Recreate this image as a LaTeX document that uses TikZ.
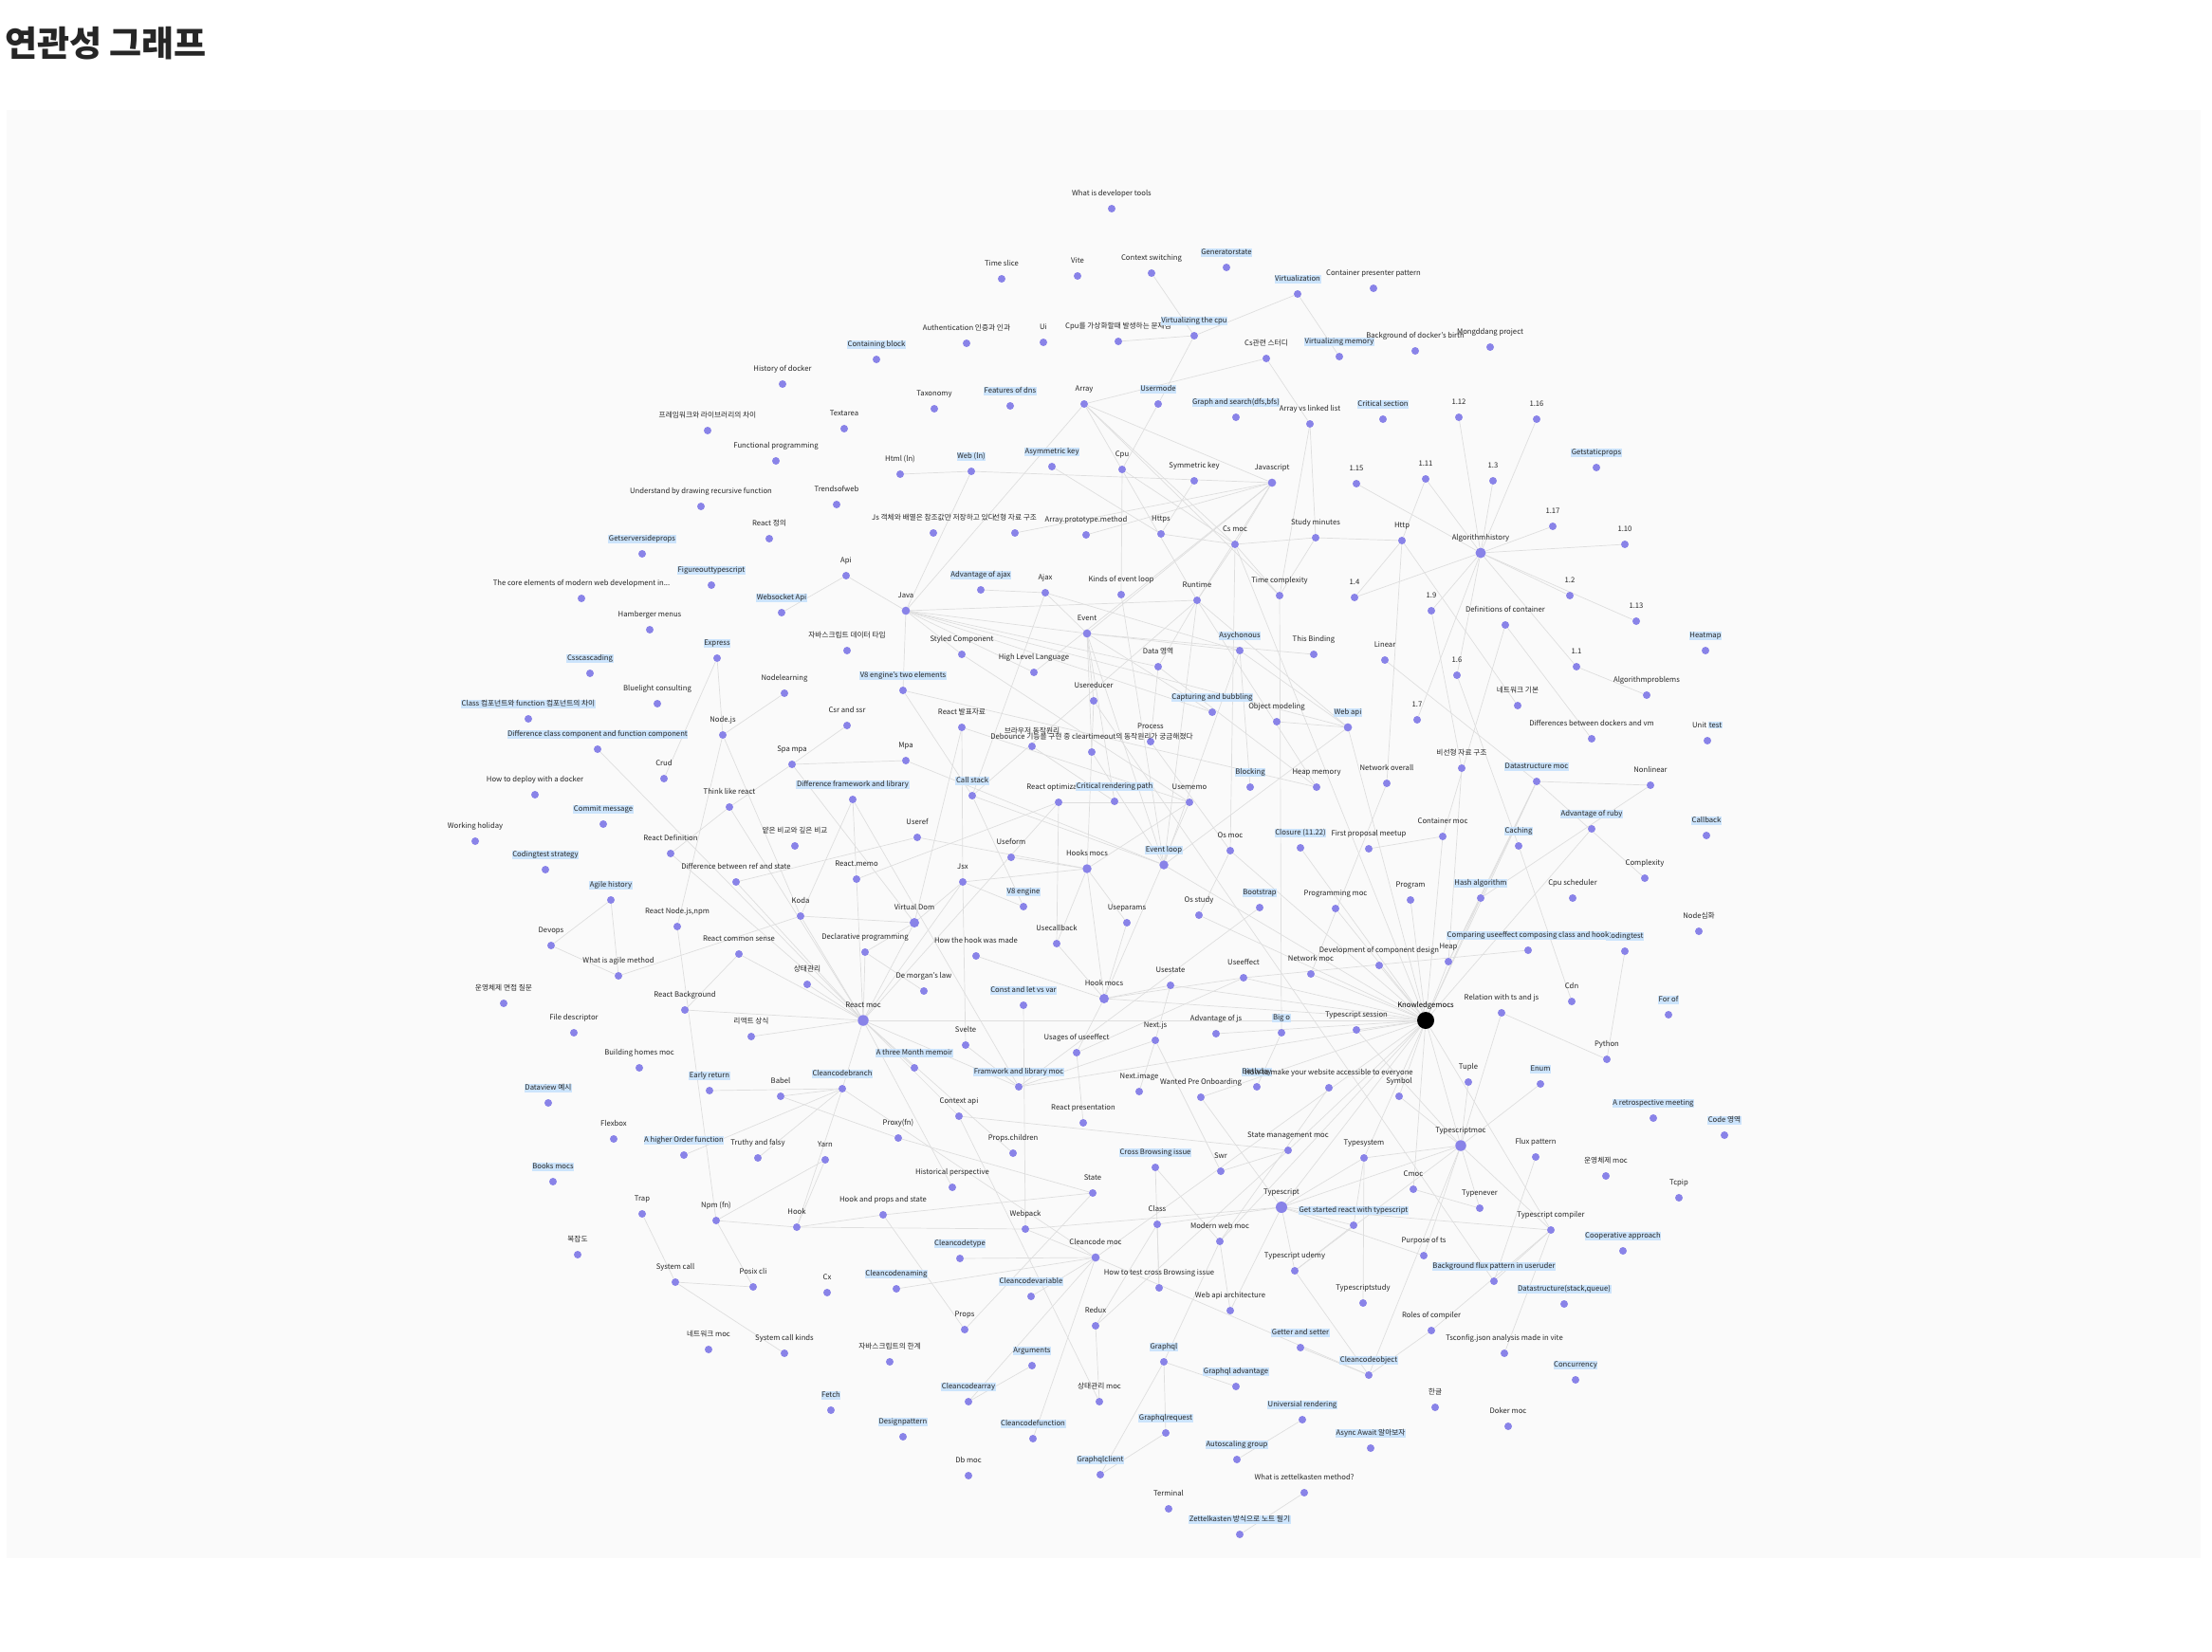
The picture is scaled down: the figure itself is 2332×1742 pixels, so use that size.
\documentclass[tikz,border=0pt]{standalone}
\usepackage{fontspec}
\setmainfont{Noto Sans CJK KR}
\definecolor{dotc}{RGB}{137,131,232}
\definecolor{hlc}{RGB}{204,228,252}
\definecolor{edgec}{RGB}{222,222,222}
\definecolor{txt}{RGB}{38,38,38}
\definecolor{bgc}{RGB}{250,250,250}
\pgfdeclarelayer{back}
\pgfdeclarelayer{edges}
\pgfsetlayers{back,edges,main}
\tikzset{
  dot/.style={circle,fill=dotc,inner sep=0pt,minimum size=8pt},
  lbl/.style={font=\fontsize{7.7}{8}\selectfont,text=txt,inner xsep=0.6pt,inner ysep=0.9pt,text height=5.8pt,text depth=1.4pt},
  hl/.style={fill=hlc},
  edge/.style={draw=edgec,line width=0.7pt},
  bigdot/.style={minimum size=#1}
}
\setlength\fboxsep{0.8pt}
\newcommand\gn[5][]{\node[dot,#1] (#2) at (#3,#4) {};\node[lbl] (#2-l) at (#3,#4-16) {#5};}
\newcommand\gh[5][]{\node[dot,#1] (#2) at (#3,#4) {};\node[lbl,hl] (#2-l) at (#3,#4-16) {#5};}
\begin{document}
\begin{tikzpicture}[x=1pt,y=-1pt]
\useasboundingbox (0,0) rectangle (2332,1742);
\begin{pgfonlayer}{back}
\fill[white] (0,0) rectangle (2332,1742);
\fill[bgc] (7,116) rectangle (2320,1643);
\end{pgfonlayer}
\node[anchor=west,inner sep=0pt,font=\fontsize{37}{37}\selectfont\bfseries,text=txt] (title) at (5,46) {연관성 그래프};
% ---------- nodes ----------
\gn{devtools}{1172}{220}{What is developer tools}
\gn{timeslice}{1056}{294}{Time slice}
\gn{vite}{1136}{291}{Vite}
\gn{ctxsw}{1214}{288}{Context switching}
\gh{genstate}{1293}{282}{Generatorstate}
\gh{virt}{1368}{310}{Virtualization}
\gn{cpp}{1448}{304}{Container presenter pattern}
\gn{auth}{1019}{362}{Authentication 인증과 인과}
\gn{ui}{1100}{361}{Ui}
\gn{cpuvirt}{1179}{360}{Cpu를 가상화할때 발생하는 문제점}
\gh{vcpu}{1259}{354}{Virtualizing the cpu}
\gn{csstudy}{1335}{378}{Cs관련 스터디}
\gh{vmem}{1412}{376}{Virtualizing memory}
\gn{dockerbirth}{1492}{370}{Background of docker's birth}
\gn{mongd}{1571}{366}{Mongddang project}
\gh{containing}{924}{379}{Containing block}
\gn{histdocker}{825}{405}{History of docker}
\gn{taxonomy}{985}{431}{Taxonomy}
\gh{dns}{1065}{428}{Features of dns}
\gn{array}{1143}{426}{Array}
\gh{usermode}{1221}{426}{Usermode}
\gh{graphsearch}{1303}{440}{Graph and search(dfs,bfs)}
\gn{avl}{1381}{447}{Array vs linked list}
\gh{critsec}{1458}{442}{Critical section}
\gn{vAtwelve}{1538}{440}{1.12}
\gn{vAsixteen}{1620}{442}{1.16}
\gn{fwlib}{746}{454}{프레임워크와 라이브러리의 차이}
\gn{textarea}{890}{452}{Textarea}
\gn{funcprog}{818}{486}{Functional programming}
\gh{getstatic}{1683}{493}{Getstaticprops}
\gn{html}{949}{500}{Html (ln)}
\gh{web}{1024}{497}{Web (ln)}
\gh{asym}{1109}{492}{Asymmetric key}
\gn{cpu}{1183}{495}{Cpu}
\gn{sym}{1259}{507}{Symmetric key}
\gn[bigdot=8.7pt]{javascript}{1341}{509}{Javascript}
\gn{vAfifteen}{1430}{510}{1.15}
\gn{vAeleven}{1503}{505}{1.11}
\gn{vAthree}{1574}{507}{1.3}
\gn{recursive}{739}{534}{Understand by drawing recursive function}
\gn{trends}{882}{532}{Trendsofweb}
\gn{vAseventeen}{1637}{555}{1.17}
\gn{jsobj}{984}{562}{Js 객체와 배열은 참조값만 저장하고 있다}
\gn{linearkr}{1070}{562}{선형 자료 구조}
\gn{arrproto}{1145}{564}{Array.prototype.method}
\gn{https}{1224}{563}{Https}
\gn{csmoc}{1302}{574}{Cs moc}
\gn{studymin}{1387}{567}{Study minutes}
\gn{http}{1478}{570}{Http}
\gn[bigdot=11pt]{algohist}{1561}{583}{Algorithmhistory}
\gn{vAten}{1713}{574}{1.10}
\gn{reactkr}{811}{568}{React 정의}
\gh{getserver}{677}{584}{Getserversideprops}
\gn{api}{892}{607}{Api}
\gh{figure}{750}{617}{Figureouttypescript}
\gh{advajax}{1034}{622}{Advantage of ajax}
\gn{ajax}{1102}{625}{Ajax}
\gn{kindsel}{1182}{627}{Kinds of event loop}
\gn{runtime}{1262}{633}{Runtime}
\gn{timecx}{1349}{628}{Time complexity}
\gn{vAfour}{1428}{630}{1.4}
\gn{vAtwo}{1655}{628}{1.2}
\gn{coreweb}{613}{631}{The core elements of modern web development in...}
\gn[bigdot=8.7pt]{java}{955}{644}{Java}
\gn{vAnine}{1509}{644}{1.9}
\gh{websocket}{824}{646}{Websocket Api}
\gn{defcont}{1587}{659}{Definitions of container}
\gn{vAthirteen}{1725}{655}{1.13}
\gn{hamburger}{685}{664}{Hamberger menus}
\gn[bigdot=8.7pt]{event}{1146}{668}{Event}
\gn{jsdata}{893}{686}{자바스크립트 데이터 타입}
\gn{styled}{1014}{690}{Styled Component}
\gh{async}{1307}{686}{Asychonous}
\gn{thisbind}{1385}{690}{This Binding}
\gh{heatmap}{1798}{686}{Heatmap}
\gh{express}{756}{694}{Express}
\gn{linear}{1460}{696}{Linear}
\gn{dataarea}{1221}{703}{Data 영역}
\gn{vAone}{1662}{703}{1.1}
\gn{hll}{1090}{709}{High Level Language}
\gh{css}{622}{710}{Csscascading}
\gn{vAsix}{1536}{712}{1.6}
\gh{veighttwo}{952}{728}{V8 engine's two elements}
\gn{nodelearn}{827}{731}{Nodelearning}
\gn{algoprob}{1736}{733}{Algorithmproblems}
\gn{usereducer}{1153}{739}{Usereducer}
\gn{bluelight}{693}{742}{Bluelight consulting}
\gn{netbasic}{1600}{744}{네트워크 기본}
\gh{capture}{1278}{751}{Capturing and bubbling}
\gh{classkr}{557}{758}{Class 컴포넌트와 function 컴포넌트의 차이}
\gn{vAseven}{1494}{759}{1.7}
\gn{objmodel}{1346}{761}{Object modeling}
\gn{csrssr}{893}{765}{Csr and ssr}
\gn{reactpreskr}{1014}{767}{React 발표자료}
\gh[bigdot=8.7pt]{webapi}{1421}{767}{Web api}
\gn{nodejs}{762}{775}{Node.js}
\gn{diffdock}{1678}{779}{Differences between dockers and vm}
\node[dot] (unittest) at (1800,781) {};
\node[lbl] (unittest-l) at (1800,765) {Unit \colorbox{hlc}{test}};
\gn{browser}{1088}{787}{브라우저 동작원리}
\gn{process}{1213}{782}{Process}
\gh{diffclass}{630}{790}{Difference class component and function component}
\gn{debounce}{1151}{793}{Debounce 기능을 구현 중 cleartimeout의 동작원리가 궁금해졌다}
\gn{mpa}{955}{802}{Mpa}
\gn{spampa}{835}{806}{Spa mpa}
\gn{nonlinkr}{1541}{810}{비선형 자료 구조}
\gn{crud}{700}{821}{Crud}
\gh{dsmoc}{1620}{824}{Datastructure moc}
\gn{netoverall}{1462}{826}{Network overall}
\gn{nonlinear}{1740}{828}{Nonlinear}
\gh{blocking}{1318}{830}{Blocking}
\gn{heapmem}{1388}{830}{Heap memory}
\gn{deploy}{564}{838}{How to deploy with a docker}
\gh{callstack}{1025}{839}{Call stack}
\gh{diffwl}{899}{843}{Difference framework and library}
\gn{reactopt}{1116}{846}{React optimization}
\gh{crp}{1175}{845}{Critical rendering path}
\gn{usememo}{1254}{846}{Usememo}
\gn{thinkreact}{769}{851}{Think like react}
\gh{commit}{636}{869}{Commit message}
\gh{ruby}{1678}{874}{Advantage of ruby}
\gh{callback}{1799}{881}{Callback}
\gn{containermoc}{1521}{882}{Container moc}
\gn{useref}{967}{883}{Useref}
\gn{working}{501}{887}{Working holiday}
\gn{shallow}{838}{892}{얕은 비교와 깊은 비교}
\gh{caching}{1601}{892}{Caching}
\gh{closure}{1371}{894}{Closure (11.22)}
\gn{firstmeet}{1443}{895}{First proposal meetup}
\gn{osmoc}{1297}{897}{Os moc}
\gn{reactdefn}{707}{900}{React Definition}
\gn{useform}{1066}{904}{Useform}
\gh[bigdot=9.5pt]{eventloop}{1227}{912}{Event loop}
\gn[bigdot=9.5pt]{hooksmocs}{1146}{916}{Hooks mocs}
\gh{codingstrat}{575}{917}{Codingtest strategy}
\gn{complexity}{1734}{926}{Complexity}
\gn{reactmemo}{903}{927}{React.memo}
\gn{jsx}{1015}{930}{Jsx}
\gn{diffref}{776}{930}{Difference between ref and state}
\gh{hashalgo}{1561}{947}{Hash algorithm}
\gn{cpusched}{1658}{947}{Cpu scheduler}
\gn{program}{1487}{949}{Program}
\gh{agile}{644}{949}{Agile history}
\gh{veight}{1079}{956}{V8 engine}
\gh{bootstrap}{1328}{957}{Bootstrap}
\gn{progmoc}{1408}{958}{Programming moc}
\gn{ostudy}{1264}{965}{Os study}
\gn{koda}{844}{966}{Koda}
\gn[bigdot=10pt]{vdom}{964}{973}{Virtual Dom}
\gn{useparams}{1188}{973}{Useparams}
\gn{reactnpm}{714}{977}{React Node.js,npm}
\gn{nodedeep}{1791}{982}{Node심화}
\gn{usecallback}{1114}{995}{Usecallback}
\gn{devops}{581}{997}{Devops}
\gh{codingtest}{1713}{1003}{Codingtest}
\gh{comparing}{1611}{1002}{Comparing useeffect composing class and hook}
\gn{declarative}{912}{1004}{Declarative programming}
\gn{reactcommon}{779}{1006}{React common sense}
\gn{howhook}{1029}{1008}{How the hook was made}
\gn{devcomp}{1454}{1018}{Development of component design}
\gn{heap}{1527}{1014}{Heap}
\gn{netmoc}{1382}{1027}{Network moc}
\gn{whatagile}{652}{1029}{What is agile method}
\gn{useeffect}{1311}{1031}{Useeffect}
\gn{statekr}{851}{1038}{상태관리}
\gn{usestate}{1234}{1039}{Usestate}
\gn{demorgan}{974}{1045}{De morgan's law}
\gn[bigdot=10pt]{hookmocs}{1164}{1053}{Hook mocs}
\gn{cdn}{1657}{1056}{Cdn}
\gn{osinterview}{531}{1058}{운영체제 면접 질문}
\gh{constlet}{1079}{1060}{Const and let vs var}
\gn{reactbg}{722}{1065}{React Background}
\gn{relation}{1583}{1068}{Relation with ts and js}
\gh{forof}{1759}{1070}{For of}
\gn[bigdot=11.5pt]{reactmoc}{910}{1076}{React moc}
\node[dot,fill=black,minimum size=18pt] (knowledge) at (1503,1076) {};
\node[lbl,text=black] (knowledge-l) at (1503,1060) {Knowledgemocs};
\gn{tssession}{1430}{1086}{Typescript session}
\gn{filedesc}{605}{1089}{File descriptor}
\gh{bigo}{1351}{1089}{Big o}
\gn{advjs}{1282}{1090}{Advantage of js}
\gn{reactcommonkr}{792}{1093}{리액트 상식}
\gn{nextjs}{1218}{1097}{Next.js}
\gn{svelte}{1018}{1102}{Svelte}
\gn{usages}{1135}{1110}{Usages of useeffect}
\gn{python}{1694}{1117}{Python}
\gh{threemonth}{964}{1126}{A three Month memoir}
\gn{building}{674}{1126}{Building homes moc}
\gn{tuple}{1548}{1141}{Tuple}
\gh{enum}{1624}{1143}{Enum}
\gh{fwmoc}{1074}{1146}{Framwork and library moc}
\gh{birth}{1325}{1146}{Birthday}
\gn{accessible}{1401}{1147}{How to make your website accessible to everyone}
\gh{ccbranch}{888}{1148}{Cleancodebranch}
\gh{early}{748}{1150}{Early return}
\gn{nextimage}{1201}{1151}{Next.image}
\gn{babel}{823}{1156}{Babel}
\gn{symbol}{1475}{1156}{Symbol}
\gn{wanted}{1266}{1157}{Wanted Pre Onboarding}
\gh{dataview}{578}{1163}{Dataview 예시}
\gn{contextapi}{1011}{1177}{Context api}
\gh{retro}{1743}{1179}{A retrospective meeting}
\gn{reactpres}{1142}{1184}{React presentation}
\gh{codearea}{1818}{1197}{Code 영역}
\gn{proxy}{947}{1200}{Proxy(fn)}
\gn{flexbox}{647}{1201}{Flexbox}
\gn[bigdot=11.5pt]{tsmoc}{1540}{1208}{Typescriptmoc}
\gn{statemoc}{1358}{1213}{State management moc}
\gn{propschildren}{1068}{1216}{Props.children}
\gh{hof}{721}{1218}{A higher Order function}
\gn{flux}{1619}{1220}{Flux pattern}
\gn{truthy}{799}{1221}{Truthy and falsy}
\gn{typesystem}{1438}{1221}{Typesystem}
\gn{yarn}{870}{1223}{Yarn}
\gh{crossbrowse}{1218}{1231}{Cross Browsing issue}
\gn{swr}{1287}{1235}{Swr}
\gn{osmockr}{1693}{1240}{운영체제 moc}
\gh{books}{583}{1246}{Books mocs}
\gn{historical}{1004}{1252}{Historical perspective}
\gn{cmoc}{1490}{1254}{Cmoc}
\gn{state}{1152}{1258}{State}
\gn{tcpip}{1770}{1263}{Tcpip}
\gn[bigdot=12pt]{typescript}{1351}{1273}{Typescript}
\gn{typenever}{1560}{1274}{Typenever}
\gn{trap}{677}{1280}{Trap}
\gn{hookprops}{931}{1281}{Hook and props and state}
\gn{npm}{755}{1287}{Npm (fn)}
\gn{class}{1220}{1291}{Class}
\gh{getstarted}{1427}{1292}{Get started react with typescript}
\gn{hook}{840}{1294}{Hook}
\gn{webpack}{1081}{1296}{Webpack}
\gn{tscompiler}{1635}{1297}{Typescript compiler}
\gn{modernweb}{1286}{1309}{Modern web moc}
\gh{coop}{1711}{1319}{Cooperative approach}
\gn{complexkr}{609}{1323}{복잡도}
\gn{purposets}{1501}{1324}{Purpose of ts}
\gn[bigdot=8.7pt]{cleancodemoc}{1155}{1326}{Cleancode moc}
\gh{cctype}{1012}{1327}{Cleancodetype}
\gn{tsudemy}{1365}{1340}{Typescript udemy}
\gh{bgflux}{1575}{1351}{Background flux pattern in useruder}
\gn{syscall}{712}{1352}{System call}
\gn{posix}{794}{1357}{Posix cli}
\gn{testcross}{1222}{1358}{How to test cross Browsing issue}
\gh{ccnaming}{945}{1359}{Cleancodenaming}
\gn{cx}{872}{1363}{Cx}
\gh{ccvariable}{1087}{1367}{Cleancodevariable}
\gn{tsstudy}{1437}{1374}{Typescriptstudy}
\gh{dsstack}{1649}{1375}{Datastructure(stack,queue)}
\gn{webapiarch}{1297}{1382}{Web api architecture}
\gn{redux}{1155}{1398}{Redux}
\gn{props}{1017}{1402}{Props}
\gn{roles}{1509}{1403}{Roles of compiler}
\gh{getter}{1371}{1421}{Getter and setter}
\gn{netmockr}{747}{1423}{네트워크 moc}
\gn{syscallkinds}{827}{1427}{System call kinds}
\gn{tsconfig}{1586}{1427}{Tsconfig.json analysis made in vite}
\gh{graphql}{1227}{1436}{Graphql}
\gn{jslimit}{938}{1436}{자바스크립트의 한계}
\gh{arguments}{1088}{1440}{Arguments}
\gh{ccobject}{1443}{1450}{Cleancodeobject}
\gh{concurrency}{1661}{1455}{Concurrency}
\gh{graphqladv}{1303}{1462}{Graphql advantage}
\gh{ccarray}{1021}{1478}{Cleancodearray}
\gn{statemockr}{1159}{1478}{상태관리 moc}
\gn{hangul}{1513}{1484}{한글}
\gh{fetch}{876}{1487}{Fetch}
\gh{universal}{1373}{1497}{Universial rendering}
\gn{doker}{1590}{1504}{Doker moc}
\gh{designpattern}{952}{1515}{Designpattern}
\gh{ccfunction}{1089}{1517}{Cleancodefunction}
\gh{graphqlreq}{1229}{1511}{Graphqlrequest}
\gh{asyncawait}{1445}{1527}{Async Await 알아보자}
\gh{autoscaling}{1304}{1539}{Autoscaling group}
\gn{dbmoc}{1021}{1556}{Db moc}
\gh{graphqlclient}{1160}{1555}{Graphqlclient}
\gn{zettelq}{1375}{1574}{What is zettelkasten method?}
\gn{terminal}{1232}{1591}{Terminal}
\gh{zettel}{1307}{1618}{Zettelkasten 방식으로 노트 필기}
% ---------- edges ----------
\begin{pgfonlayer}{edges}
\foreach \a/\b in {ctxsw/vcpu, cpuvirt/vcpu, vcpu/virt, vcpu/usermode, usermode/cpu, virt/vmem, array/csstudy, csstudy/avl,
 array/javascript, array/csmoc, array/timecx, array/java, array/runtime, asym/https, html/web, web/javascript, web/java,
 cpu/kindsel, sym/https, javascript/csmoc, javascript/runtime, javascript/event, javascript/arrproto, javascript/linearkr, javascript/hll,
 avl/timecx, avl/studymin,
 vAtwelve/algohist, vAsixteen/algohist, vAthree/algohist, vAeleven/algohist, vAfifteen/algohist, vAseventeen/algohist, vAten/algohist,
 vAtwo/algohist, vAthirteen/algohist, vAone/algohist, vAfour/algohist, vAnine/algohist, vAsix/algohist, vAseven/algohist, vAone/algoprob,
 vAeleven/http, http/studymin, http/netoverall, http/netbasic, http/vAfour, studymin/csmoc, studymin/timecx,
 defcont/diffdock, defcont/containermoc, linear/dsmoc, dsmoc/nonlinear, dsmoc/complexity, dsmoc/heap, nonlinear/hashalgo,
 vAsix/caching, vAnine/nonlinkr, nonlinkr/heap, caching/cdn, containermoc/firstmeet, netoverall/netmoc, webapi/knowledge, ruby/knowledge,
 api/websocket, api/java, express/nodejs, express/crud, nodejs/nodelearn, nodejs/reactnpm, nodejs/koda, csrssr/spampa, spampa/thinkreact,
 spampa/vdom, thinkreact/reactdefn, thinkreact/reactmoc, diffwl/fwmoc, diffwl/koda, diffwl/reactmemo, diffclass/reactmoc, reactdefn/reactmoc,
 agile/devops, agile/whatagile, devops/whatagile, whatagile/koda, reactnpm/npm, reactbg/reactmoc, reactbg/reactcommon, reactcommon/reactmoc,
 reactcommonkr/reactmoc, statekr/reactmoc, koda/reactmoc, declarative/reactmoc, diffref/reactmoc, reactmemo/reactmoc, early/ccbranch,
 babel/ccbranch, babel/proxy, ccbranch/reactmoc, ccbranch/hook, yarn/npm, truthy/ccbranch, hof/ccbranch, npm/hook, npm/posix, trap/syscall,
 syscall/posix, syscall/syscallkinds, hook/hookprops, hook/webpack, hook/yarn,
 java/runtime, java/event, java/dataarea, java/capture, java/webapi, java/veighttwo, java/hll, java/styled,
 advajax/ajax, ajax/event, ajax/async, ajax/callstack, kindsel/eventloop, runtime/dataarea, runtime/heapmem, runtime/eventloop, runtime/callstack,
 runtime/webapi, timecx/bigo, csmoc/https, csmoc/runtime, csmoc/osmoc, csmoc/knowledge, csmoc/cpu, csmoc/timecx, event/async, event/capture,
 event/eventloop, event/usereducer, event/debounce, event/crp, event/thisbind, usereducer/hooksmocs, usereducer/bgflux, async/blocking,
 async/eventloop, async/webapi, objmodel/webapi, dataarea/heapmem, dataarea/process, process/osmoc, reactopt/usememo, reactopt/reactmemo,
 reactopt/usecallback, reactopt/reactmoc, usememo/hooksmocs, usememo/hookmocs, osmoc/ostudy, osmoc/knowledge, useref/hooksmocs, useref/diffref,
 useform/hooksmocs, eventloop/callstack, eventloop/webapi, vdom/reactmoc, vdom/jsx, vdom/declarative, vdom/koda, reactpreskr/jsx, reactpreskr/vdom,
 reactpreskr/usememo, mpa/spampa, mpa/eventloop, styled/usememo, browser/crp, debounce/eventloop, veighttwo/callstack, veighttwo/heapmem,
 veight/callstack, veight/jsx, jsx/svelte, jsx/reactmoc, jsx/hooksmocs, constlet/webpack, usecallback/hookmocs, usecallback/hooksmocs,
 useparams/hookmocs, useparams/hooksmocs, usestate/hookmocs, useeffect/hookmocs, useeffect/usages, useeffect/comparing, usestate/nextjs,
 hookmocs/usages, howhook/hookmocs, hooksmocs/hookmocs, svelte/fwmoc, nextjs/nextimage, nextjs/fwmoc, nextjs/swr, usages/reactpres,
 fwmoc/reactmoc, fwmoc/knowledge, fwmoc/bootstrap, contextapi/reactmoc, contextapi/statemoc, contextapi/statemockr, proxy/state,
 propschildren/reactmoc, crossbrowse/testcross, statemoc/knowledge, statemoc/redux, statemoc/swr, historical/reactmoc, state/hookprops,
 wanted/typescript, wanted/knowledge, class/typescript, class/redux, class/testcross, demorgan/declarative, threemonth/reactmoc,
 knowledge/program, knowledge/progmoc, knowledge/hashalgo, knowledge/heap, knowledge/devcomp, knowledge/tssession, knowledge/symbol,
 knowledge/tsmoc, knowledge/typesystem, knowledge/typescript, knowledge/cmoc, knowledge/netmoc, knowledge/containermoc, knowledge/dsmoc,
 knowledge/reactmoc, knowledge/hookmocs, knowledge/cleancodemoc, knowledge/modernweb, knowledge/tscompiler, relation/tsmoc, relation/python,
 codingtest/python, hashalgo/heap, hashalgo/dsmoc, tuple/tsmoc, enum/tsmoc, symbol/tsmoc, tsmoc/typescript, tsmoc/typesystem, tsmoc/typenever,
 tsmoc/tscompiler, tsmoc/tsudemy, tsmoc/purposets, tsmoc/tssession, flux/bgflux, cmoc/typenever, typesystem/typescript, typesystem/tsstudy,
 typesystem/getstarted, ccobject/tsmoc, cleancodemoc/cctype, cleancodemoc/ccnaming, cleancodemoc/ccvariable, cleancodemoc/ccarray,
 cleancodemoc/ccfunction, cleancodemoc/ccobject, cleancodemoc/ccbranch, getter/ccobject, webpack/typescript, webpack/cleancodemoc,
 redux/statemockr, hookprops/props, props/state, arguments/ccarray, graphql/graphqlreq, graphql/graphqladv, graphql/graphqlclient,
 graphqlreq/graphqlclient, graphql/modernweb, webapiarch/typescript, zettelq/zettel, universal/autoscaling, typescript/tscompiler,
 typescript/purposets, getstarted/tsudemy, tscompiler/bgflux, tscompiler/roles, tscompiler/tsconfig, ccobject/roles, tsudemy/ccobject,
 typescript/getstarted, typescript/tsudemy, modernweb/crossbrowse, modernweb/accessible, modernweb/webapiarch, bigo/birth,
 closure/knowledge, ostudy/knowledge, eventloop/knowledge, advjs/knowledge, usestate/knowledge, useeffect/knowledge}
 \draw[edge] (\a) -- (\b);
\end{pgfonlayer}
\end{tikzpicture}
\end{document}
